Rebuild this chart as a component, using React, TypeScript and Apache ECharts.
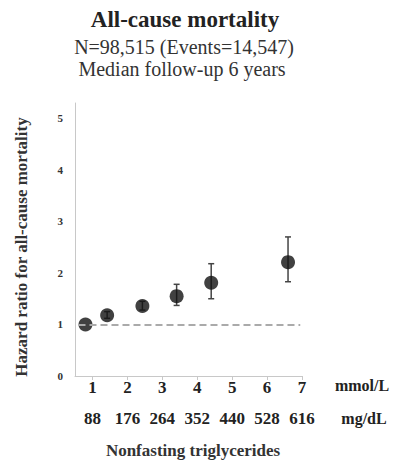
import React, { useEffect, useRef } from "react";
import * as echarts from "echarts";

const mmolTicks = [1, 2, 3, 4, 5, 6, 7];
const mgdlLabels = ["88", "176", "264", "352", "440", "528", "616"];
const yTicks = [0, 1, 2, 3, 4, 5];
// x position (mmol/L), hazard ratio, lower CI, upper CI
const xPos = [0.8, 1.42, 2.43, 3.41, 4.4, 6.6];
const hr = [1.0, 1.18, 1.36, 1.55, 1.81, 2.21];
const ciLow = [1.0, 1.12, 1.28, 1.37, 1.5, 1.83];
const ciHigh = [1.0, 1.25, 1.45, 1.78, 2.18, 2.7];

export default function App() {
  const ref = useRef<HTMLDivElement>(null);
  useEffect(() => {
    document.body.style.margin = "0";
    const chart = echarts.init(ref.current!, undefined, { renderer: "svg" });
    const serif = "Liberation Serif";
    const points = xPos.map((x, i) => [x, hr[i]]);
    const bars = xPos
      .map((x, i) => [x, ciLow[i], ciHigh[i]])
      .filter((d) => d[2] - d[1] > 0.001);
    chart.setOption({
      animation: false,
      backgroundColor: "#fff",
      grid: { left: 75, right: 91, top: 103, bottom: 90 },
      xAxis: [
        {
          type: "value",
          min: 0.5,
          max: 7,
          axisLine: { show: true, lineStyle: { color: "#c8c8c8", width: 1 } },
          axisTick: { show: true, customValues: mmolTicks, length: 4, lineStyle: { color: "#c8c8c8" } },
          splitLine: { show: false },
          axisLabel: {
            customValues: mmolTicks,
            margin: 3,
            color: "#222",
            fontFamily: serif,
            fontWeight: "bold",
            fontSize: 17,
          },
        },
        {
          type: "value",
          position: "bottom",
          offset: 31,
          min: 0.5,
          max: 7,
          axisLine: { show: false },
          axisTick: { show: false },
          splitLine: { show: false },
          axisLabel: {
            customValues: mmolTicks,
            margin: 3,
            color: "#222",
            fontFamily: serif,
            fontWeight: "bold",
            fontSize: 17,
            formatter: (v: number) => mgdlLabels[mmolTicks.indexOf(Math.round(v))] ?? "",
          },
        },
      ],
      yAxis: {
        type: "value",
        min: 0,
        max: 5.3,
        axisLine: { show: true, lineStyle: { color: "#c8c8c8", width: 1 } },
        axisTick: { show: false, customValues: yTicks },
        splitLine: { show: false },
        axisLabel: {
          customValues: yTicks,
          margin: 12,
          color: "#333",
          fontFamily: serif,
          fontWeight: "bold",
          fontSize: 11,
        },
      },
      graphic: [
        {
          type: "text",
          x: 185,
          y: 19,
          style: {
            text: "All-cause mortality",
            font: `bold 23px ${serif}`,
            fill: "#222",
            align: "center",
            verticalAlign: "middle",
          },
        },
        {
          type: "text",
          x: 184,
          y: 47,
          style: {
            text: "N=98,515 (Events=14,547)",
            font: `20px ${serif}`,
            fill: "#333",
            align: "center",
            verticalAlign: "middle",
          },
        },
        {
          type: "text",
          x: 182,
          y: 69,
          style: {
            text: "Median follow-up 6 years",
            font: `20px ${serif}`,
            fill: "#333",
            align: "center",
            verticalAlign: "middle",
          },
        },
        {
          type: "text",
          x: 21,
          y: 247,
          rotation: Math.PI / 2,
          style: {
            text: "Hazard ratio for all-cause mortality",
            font: `bold 17px ${serif}`,
            fill: "#333",
            align: "center",
            verticalAlign: "middle",
          },
        },
        {
          type: "text",
          x: 362,
          y: 385,
          style: {
            text: "mmol/L",
            font: `bold 16px ${serif}`,
            fill: "#222",
            align: "center",
            verticalAlign: "middle",
          },
        },
        {
          type: "text",
          x: 364,
          y: 418,
          style: {
            text: "mg/dL",
            font: `bold 16px ${serif}`,
            fill: "#222",
            align: "center",
            verticalAlign: "middle",
          },
        },
        {
          type: "text",
          x: 193,
          y: 450,
          style: {
            text: "Nonfasting triglycerides",
            font: `bold 17px ${serif}`,
            fill: "#333",
            align: "center",
            verticalAlign: "middle",
          },
        },
      ],
      series: [
        {
          type: "custom",
          xAxisIndex: 0,
          data: bars,
          z: 2,
          renderItem: (params: any, api: any) => {
            const x = api.value(0);
            const lo = api.coord([x, api.value(1)]);
            const hi = api.coord([x, api.value(2)]);
            const cap = 3;
            const style = { stroke: "#444", lineWidth: 1.5 };
            return {
              type: "group",
              children: [
                { type: "line", shape: { x1: lo[0], y1: lo[1], x2: hi[0], y2: hi[1] }, style },
                { type: "line", shape: { x1: lo[0] - cap, y1: lo[1], x2: lo[0] + cap, y2: lo[1] }, style },
                { type: "line", shape: { x1: hi[0] - cap, y1: hi[1], x2: hi[0] + cap, y2: hi[1] }, style },
              ],
            };
          },
        },
        {
          type: "scatter",
          xAxisIndex: 0,
          data: points,
          symbol: "circle",
          symbolSize: 14,
          itemStyle: { color: "#111" },
          z: 3,
          markLine: {
            silent: true,
            symbol: "none",
            label: { show: false },
            lineStyle: { color: "#aaa", type: [7, 4], width: 2 },
            data: [[{ coord: [0.6, 1] }, { coord: [6.95, 1] }]],
          },
        },
      ],
    });
    return () => chart.dispose();
  }, []);
  return <div ref={ref} style={{ width: 393, height: 466 }} />;
}
